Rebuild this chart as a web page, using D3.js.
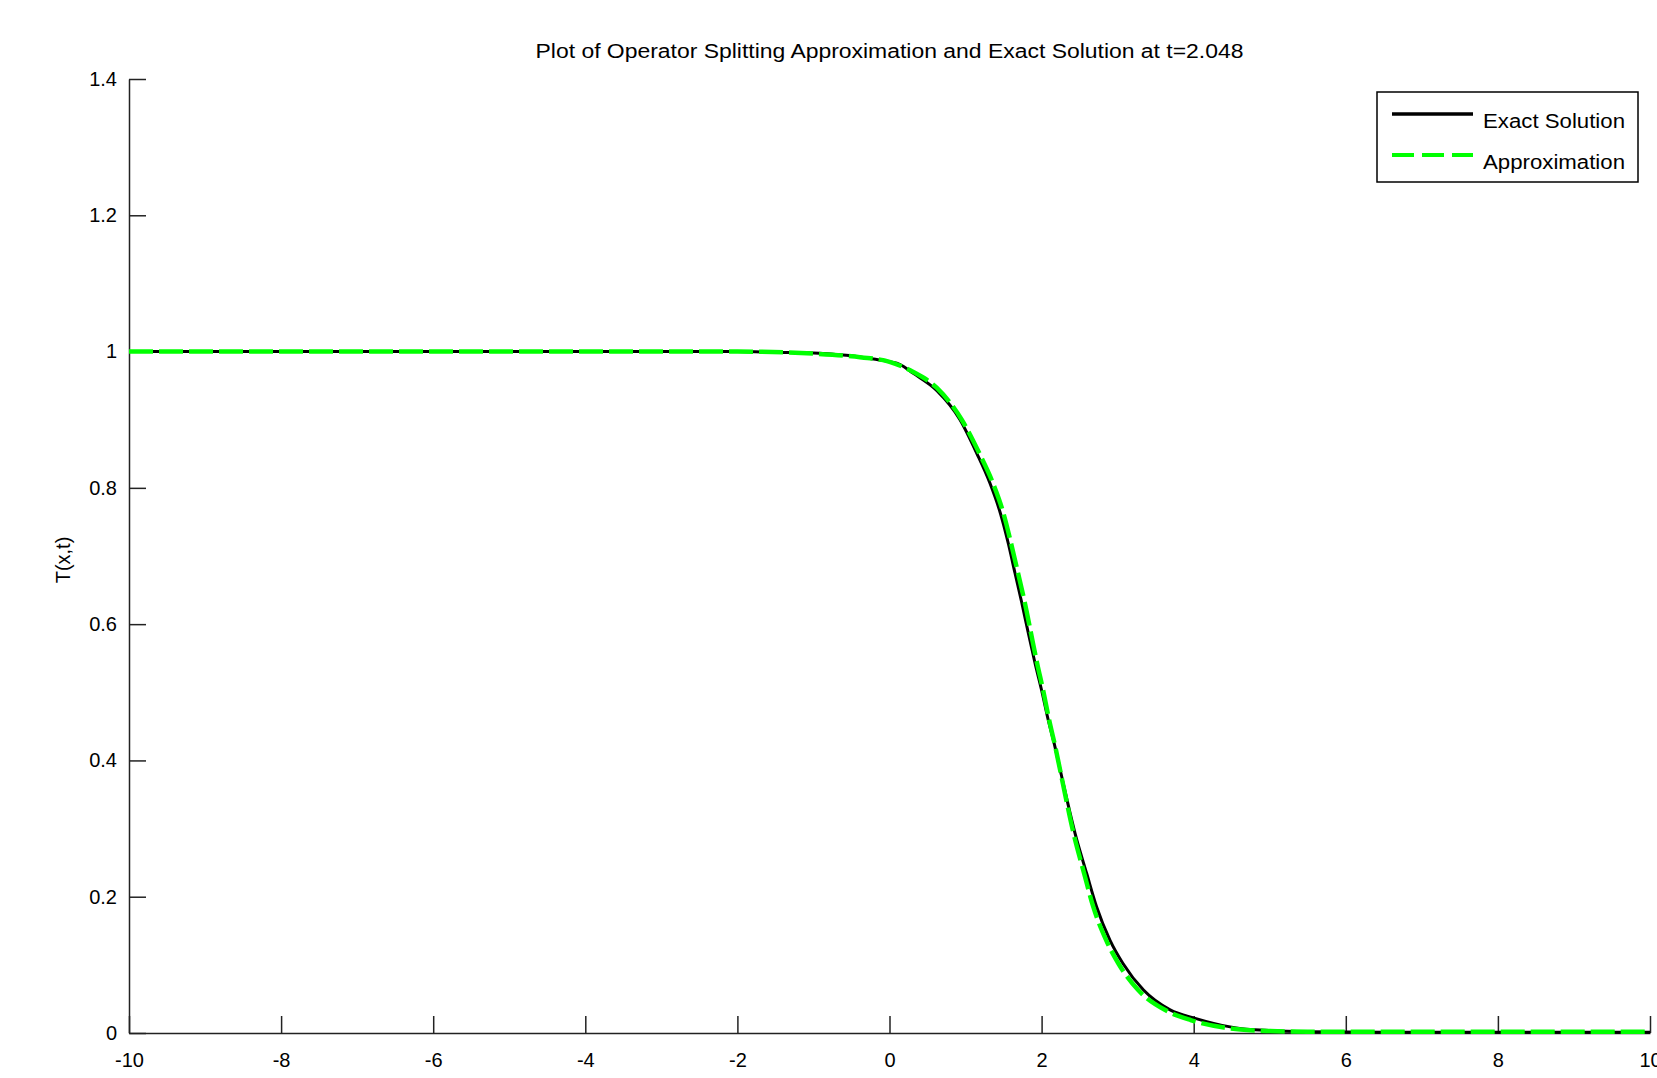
<!DOCTYPE html>
<html>
<head>
<meta charset="utf-8">
<script src="https://cdn.jsdelivr.net/npm/d3@7"></script>
<style>
  body { margin: 0; background: #fff; }
  text { font-family: "Liberation Sans", Arial, sans-serif; fill: #000; }
</style>
</head>
<body>
<script>
// values
const titleText = "Plot of Operator Splitting Approximation and Exact Solution at t=2.048";
const yLabel = "T(x,t)";
const seriesNames = ["Exact Solution", "Approximation"];
const xTicks = [-10, -8, -6, -4, -2, 0, 2, 4, 6, 8, 10];
const yTicks = [0, 0.2, 0.4, 0.6, 0.8, 1, 1.2, 1.4];

const exactX = [-10, -2, -1.5, -1, -0.74, -0.5, -0.21, 0, 0.14, 0.313, 0.62, 0.927, 1.146, 1.32, 1.46, 1.563, 1.65, 1.74, 1.825, 1.913, 2.0, 2.088, 2.176, 2.285, 2.44, 2.593, 2.724, 2.9, 3.07, 3.34, 3.69, 4.02, 4.48, 4.74, 5.5, 6.5, 10];
const exactT = [1, 1, 0.999, 0.998, 0.996, 0.994, 0.989, 0.985, 0.981, 0.968, 0.943, 0.9, 0.851, 0.807, 0.762, 0.718, 0.675, 0.631, 0.587, 0.543, 0.503, 0.459, 0.42, 0.366, 0.293, 0.234, 0.185, 0.136, 0.102, 0.063, 0.034, 0.0215, 0.009, 0.005, 0.002, 0.001, 0.001];

const approxX = [-10, -2, -1, -0.5, 0, 0.313, 0.62, 0.95, 1.18, 1.36, 1.5, 1.6, 1.69, 1.78, 1.86, 1.94, 2.02, 2.1, 2.18, 2.28, 2.42, 2.56, 2.68, 2.85, 3.01, 3.27, 3.62, 3.96, 4.4, 4.74, 5.5, 10];
const approxT = [1, 1, 0.997, 0.993, 0.985, 0.97, 0.947, 0.9, 0.851, 0.807, 0.762, 0.718, 0.675, 0.631, 0.587, 0.543, 0.503, 0.459, 0.42, 0.366, 0.293, 0.234, 0.185, 0.136, 0.102, 0.063, 0.034, 0.019, 0.008, 0.004, 0.002, 0.002];

const margin = { top: 79, right: 7, bottom: 45, left: 129 };
const width = 1657 - margin.left - margin.right;
const height = 1078 - margin.top - margin.bottom;

const svgRoot = d3.select("body")
    .append("svg")
    .attr("width", width + margin.left + margin.right)
    .attr("height", height + margin.top + margin.bottom);

const svg = svgRoot.append("g")
    .attr("transform", `translate(${margin.left},${margin.top})`);

const x = d3.scaleLinear().domain([-10, 10]).range([0, width]);
const y = d3.scaleLinear().domain([0, 1.4]).range([height, 0]);

// axes, ticks pointing inward like matlab
const xAxis = svg.append("g")
    .attr("transform", `translate(0,${height})`)
    .call(d3.axisBottom(x).tickValues(xTicks).tickSizeInner(-17).tickSizeOuter(0).tickPadding(20).tickFormat(d => String(d)));

const yAxis = svg.append("g")
    .call(d3.axisLeft(y).tickValues(yTicks).tickSizeInner(-17).tickSizeOuter(0).tickPadding(12).tickFormat(d => String(d)));

[xAxis, yAxis].forEach(g => {
    g.attr("font-family", null).attr("font-size", null);
    g.selectAll("path, line").attr("stroke", "#222").attr("stroke-width", 1.5);
    g.selectAll("text").style("font-size", "20px").attr("fill", "#000");
});

// lines
const toPoints = (xs, ts) => xs.map((v, i) => [v, ts[i]]);
const line = d3.line().x(d => x(d[0])).y(d => y(d[1])).curve(d3.curveMonotoneX);

svg.append("path")
    .datum(toPoints(exactX, exactT))
    .attr("d", line)
    .attr("fill", "none")
    .attr("stroke", "#000")
    .attr("stroke-width", 3);

svg.append("path")
    .datum(toPoints(approxX, approxT))
    .attr("d", line)
    .attr("fill", "none")
    .attr("stroke", "#00ff00")
    .attr("stroke-width", 4.5)
    .attr("stroke-dasharray", "24,6");

// title and y label
svgRoot.append("text")
    .attr("x", margin.left + width / 2)
    .attr("y", 58)
    .attr("text-anchor", "middle")
    .attr("textLength", 708)
    .attr("lengthAdjust", "spacingAndGlyphs")
    .style("font-size", "20px")
    .text(titleText);

svgRoot.append("text")
    .attr("transform", "translate(70,560) rotate(-90)")
    .attr("text-anchor", "middle")
    .style("font-size", "20px")
    .text(yLabel);

// legend
const legend = svgRoot.append("g").attr("transform", "translate(1377,92)");
legend.append("rect")
    .attr("width", 261).attr("height", 90)
    .attr("fill", "#fff").attr("stroke", "#000").attr("stroke-width", 1.5);

const styles = [
    { stroke: "#000", w: 3.5, dash: null },
    { stroke: "#00ff00", w: 4, dash: "22,8" }
];
seriesNames.forEach((name, i) => {
    const ly = 22 + i * 41;
    legend.append("line")
        .attr("x1", 15).attr("x2", 96).attr("y1", ly).attr("y2", ly)
        .attr("stroke", styles[i].stroke)
        .attr("stroke-width", styles[i].w)
        .attr("stroke-dasharray", styles[i].dash);
    legend.append("text")
        .attr("x", 106).attr("y", ly + 14)
        .attr("textLength", 142)
        .attr("lengthAdjust", "spacingAndGlyphs")
        .style("font-size", "20px")
        .text(name);
});
</script>
</body>
</html>
